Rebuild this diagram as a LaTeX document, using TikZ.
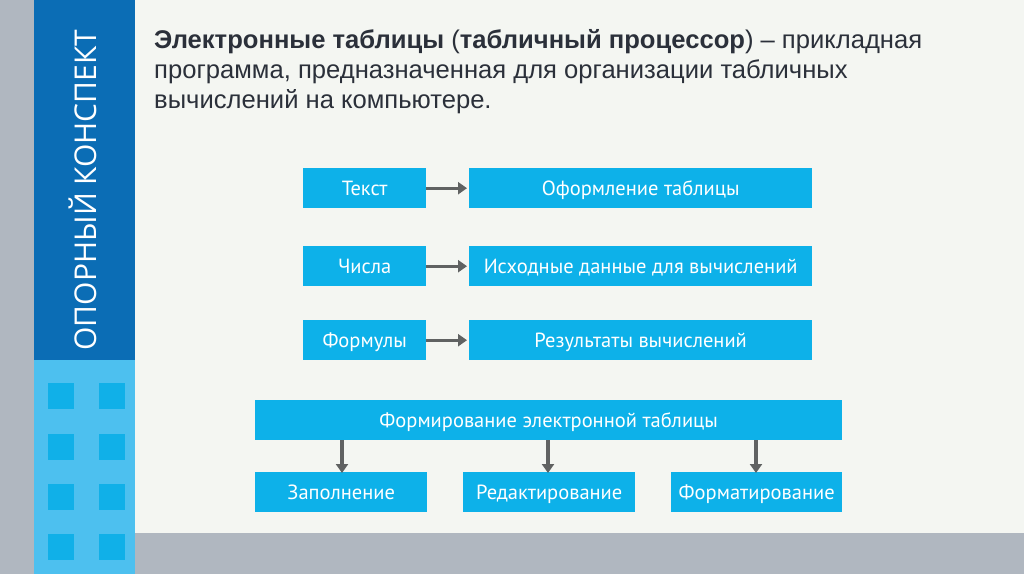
\documentclass[tikz,border=0pt]{standalone}
\usepackage{fontspec}
\setmainfont{Liberation Sans}
\newfontfamily\boxfont{PT Sans}
\newfontfamily\sidefont{Open Sans}
\usetikzlibrary{arrows.meta}

\definecolor{sidegray}{HTML}{B0B7C0}
\definecolor{darkband}{HTML}{0B6DB5}
\definecolor{lightband}{HTML}{4DC0EF}
\definecolor{squareblue}{HTML}{10B0E8}
\definecolor{paper}{HTML}{F4F6F2}
\definecolor{boxblue}{HTML}{0DB1E9}
\definecolor{titleink}{HTML}{2B303A}
\definecolor{arrowgray}{HTML}{606262}

\tikzset{
	cbox/.style={fill=boxblue, text=white, font=\boxfont\fontsize{20.5}{22}\selectfont,
		minimum height=40, inner sep=0pt, text height=16pt, text depth=2pt, anchor=north west},
	arr/.style={draw=arrowgray, line width=3.2pt, -{Triangle[length=9pt,width=12pt]}},
	titleline/.style={anchor=base west, inner sep=0pt, text=titleink,
		font=\fontsize{25.6}{30}\selectfont}
}

\begin{document}
\begin{tikzpicture}[x=1pt,y=-1pt]
		\useasboundingbox (0,0) rectangle (1024,574);
		% background
		\fill[paper] (135,0) rectangle (1024,533);
		\fill[sidegray] (0,0) rectangle (34,574);
		\fill[sidegray] (135,533) rectangle (1024,574);
		\fill[darkband] (34,0) rectangle (135,360);
		\fill[lightband] (34,360) rectangle (135,574);
		\foreach \y in {383,434,484,534} {
			\fill[squareblue] (48,\y) rectangle ++(26,26);
			\fill[squareblue] (99,\y) rectangle ++(26,26);
		}
		\node[rotate=90, anchor=base, inner sep=0pt, text=white,
			font=\sidefont\fontsize{30}{30}\selectfont] (side) at (96,190) {ОПОРНЫЙ КОНСПЕКТ};
		
		% title
		\node[titleline] (title1) at (154,48) {\textbf{Электронные таблицы} (\textbf{табличный процессор}) – прикладная};
		\node[titleline] (title2) at (154,78) {программа, предназначенная для организации табличных};
		\node[titleline] (title3) at (154,108) {вычислений на компьютере.};
		
		% left column
		\node[cbox, minimum width=123] (tekst) at (303,168) {Текст};
		\node[cbox, minimum width=123] (chisla) at (303,246) {Числа};
		\node[cbox, minimum width=123] (formuly) at (303,320) {Формулы};
		
		% right column
		\node[cbox, minimum width=343] (oform) at (469,168) {Оформление таблицы};
		\node[cbox, minimum width=343] (dannye) at (469,246) {Исходные данные для вычислений};
		\node[cbox, minimum width=343] (rezult) at (469,320) {Результаты вычислений};
		
		\draw[arr] (tekst.east) -- ([xshift=-2pt]oform.west);
		\draw[arr] (chisla.east) -- ([xshift=-2pt]dannye.west);
		\draw[arr] (formuly.east) -- ([xshift=-2pt]rezult.west);
		
		% lower part
		\node[cbox, minimum width=587] (formir) at (255,400) {Формирование электронной таблицы};
		\node[cbox, minimum width=172] (zapoln) at (255,472) {Заполнение};
		\node[cbox, minimum width=172] (redakt) at (463,472) {Редактирование};
		\node[cbox, minimum width=171] (format) at (671,472) {Форматирование};
		
		\draw[arr] (formir.south -| 342,0) -- ([yshift=-1pt]zapoln.north -| 342,0);
		\draw[arr] (formir.south -| 548,0) -- ([yshift=-1pt]redakt.north -| 548,0);
		\draw[arr] (formir.south -| 756,0) -- ([yshift=-1pt]format.north -| 756,0);
		
	\end{tikzpicture}
\end{document}
